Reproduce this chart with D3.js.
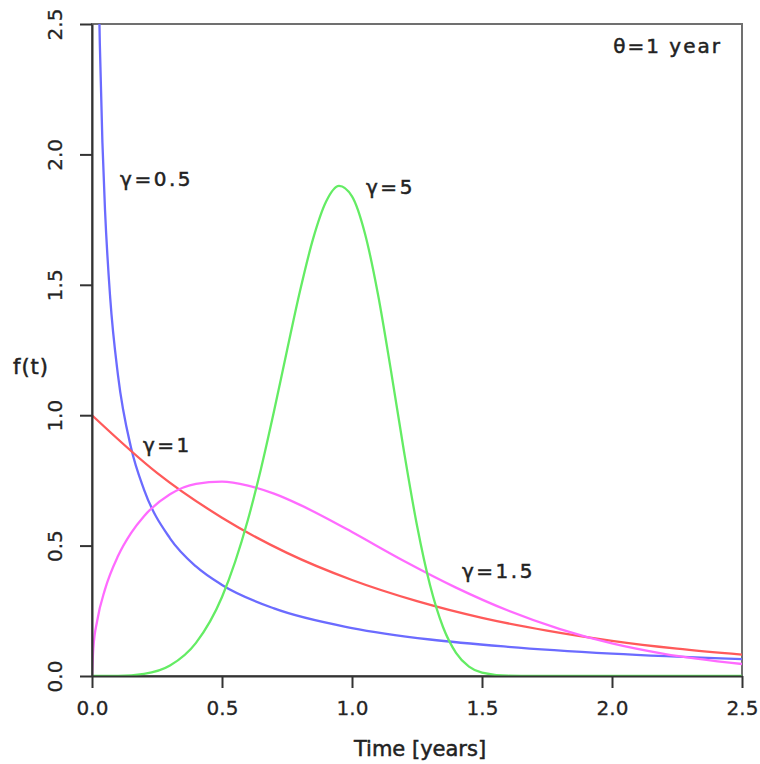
<!DOCTYPE html>
<html>
<head>
<meta charset="utf-8">
<script src="https://cdn.jsdelivr.net/npm/d3@7"></script>
<style>
  html, body { margin: 0; padding: 0; background: #fff; }
  svg text { font-family: "DejaVu Sans", Verdana, sans-serif; fill: #222; }
</style>
</head>
<body>
<svg id="chart" width="760" height="764"></svg>
<script>
// ---- data ----
const xTicks = [0, 0.5, 1.0, 1.5, 2.0, 2.5];
const yTicks = [0, 0.5, 1.0, 1.5, 2.0, 2.5];

const tG05 = [0.025, 0.03, 0.04, 0.05, 0.07, 0.1, 0.15, 0.2, 0.3, 0.4, 0.5, 0.7, 1.0, 1.3, 1.6, 2.0, 2.5];
const fG05 = [2.700, 2.428, 2.047, 1.788, 1.450, 1.153, 0.876, 0.715, 0.528, 0.420, 0.349, 0.259, 0.184, 0.140, 0.112, 0.086, 0.065];

const tG1 = [0, 0.25, 0.5, 0.75, 1.0, 1.25, 1.5, 1.75, 2.0, 2.25, 2.5];
const fG1 = [1.000, 0.779, 0.607, 0.472, 0.368, 0.287, 0.223, 0.174, 0.135, 0.105, 0.082];

const tG15 = [0, 0.005, 0.02, 0.05, 0.1, 0.15, 0.2, 0.3, 0.4, 0.5, 0.6, 0.7, 0.8, 0.9, 1.0, 1.2, 1.4, 1.6, 1.8, 2.0, 2.2, 2.5];
const fG15 = [0, 0.106, 0.212, 0.332, 0.460, 0.548, 0.613, 0.697, 0.737, 0.745, 0.730, 0.699, 0.656, 0.606, 0.552, 0.441, 0.339, 0.251, 0.180, 0.125, 0.085, 0.046];

const tG5 = [0, 0.1, 0.2, 0.3, 0.4, 0.5, 0.6, 0.65, 0.7, 0.75, 0.8, 0.85, 0.9, 0.95, 1.0, 1.05, 1.1, 1.15, 1.2, 1.25, 1.3, 1.35, 1.4, 1.45, 1.5, 1.6, 1.7, 2.0, 2.5];
const fG5 = [0, 0.0005, 0.008, 0.040, 0.127, 0.303, 0.600, 0.795, 1.015, 1.248, 1.476, 1.675, 1.818, 1.879, 1.839, 1.696, 1.463, 1.170, 0.861, 0.577, 0.349, 0.188, 0.089, 0.036, 0.013, 0.001, 0, 0, 0];

const seriesNames = ["γ=0.5", "γ=1", "γ=1.5", "γ=5"];
const seriesColors = ["#6b6bff", "#ff5a5a", "#ff6bff", "#64ec64"];
const seriesT = [tG05, tG1, tG15, tG5];
const seriesF = [fG05, fG1, fG15, fG5];

// label anchor values (data coords)
const labelT = [0.108, 0.196, 1.423, 1.054];
const labelF = [1.877, 0.858, 0.377, 1.85];
const noteText = "θ=1 year";
const xTitle = "Time [years]";
const yTitle = "f(t)";

// ---- layout ----
const svg = d3.select("#chart");
const L = 92, R = 742, T = 24, B = 676;
const x = d3.scaleLinear().domain([0, 2.5]).range([L, R]);
const y = d3.scaleLinear().domain([0, 2.5]).range([B, T]);

svg.append("defs").append("clipPath").attr("id", "clip")
  .append("rect").attr("x", L).attr("y", T).attr("width", R - L).attr("height", B - T);

// box
svg.append("rect").attr("x", L).attr("y", T).attr("width", R - L).attr("height", B - T)
  .attr("fill", "none").attr("stroke", "#707070").attr("stroke-width", 2);

// curves
const line = d3.line().x(d => x(d[0])).y(d => y(d[1])).curve(d3.curveMonotoneX);
const g = svg.append("g").attr("clip-path", "url(#clip)");
seriesT.forEach((ts, i) => {
  const pts = ts.map((t, j) => [t, seriesF[i][j]]);
  g.append("path").attr("d", line(pts)).attr("fill", "none")
    .attr("stroke", seriesColors[i]).attr("stroke-width", 2.3);
});

// axes
const xAxis = svg.append("g").attr("transform", `translate(0,${B})`)
  .call(d3.axisBottom(x).tickValues(xTicks).tickFormat(d3.format(".1f")).tickSize(12).tickSizeOuter(0));
const yAxis = svg.append("g").attr("transform", `translate(${L},0)`)
  .call(d3.axisLeft(y).tickValues(yTicks).tickFormat(d3.format(".1f")).tickSize(12).tickSizeOuter(0));
[xAxis, yAxis].forEach(a => {
  a.select(".domain").attr("stroke", "#333").attr("stroke-width", 2);
  a.selectAll(".tick line").attr("stroke", "#333").attr("stroke-width", 2);
  a.selectAll(".tick text").attr("font-size", 20).attr("fill", "#333")
    .attr("stroke", "#333").attr("stroke-width", 0.3)
    .style("font-family", "DejaVu Sans, sans-serif");
});
xAxis.selectAll(".tick text").attr("y", 25).attr("dy", "0.71em");
yAxis.selectAll(".tick text")
  .attr("x", null).attr("dy", null).attr("text-anchor", "middle")
  .attr("transform", "translate(-30,0) rotate(-90)").attr("y", 0);

// titles
svg.append("text").attr("x", 420).attr("y", 756).attr("text-anchor", "middle")
  .attr("font-size", 21).attr("stroke", "#222").attr("stroke-width", 0.5).text(xTitle);
svg.append("text").attr("x", 13).attr("y", 374).attr("font-size", 21)
  .attr("letter-spacing", 1).attr("stroke", "#222").attr("stroke-width", 0.5).text(yTitle);

// note
svg.append("text").attr("x", 722).attr("y", 53).attr("text-anchor", "end")
  .attr("font-size", 20).attr("letter-spacing", 2)
  .attr("stroke", "#222").attr("stroke-width", 0.5).text(noteText);

// series labels
seriesNames.forEach((n, i) => {
  svg.append("text").attr("x", x(labelT[i])).attr("y", y(labelF[i]))
    .attr("font-size", 20).attr("letter-spacing", 2.5)
    .attr("stroke", "#222").attr("stroke-width", 0.5).text(n);
});
</script>
</body>
</html>
